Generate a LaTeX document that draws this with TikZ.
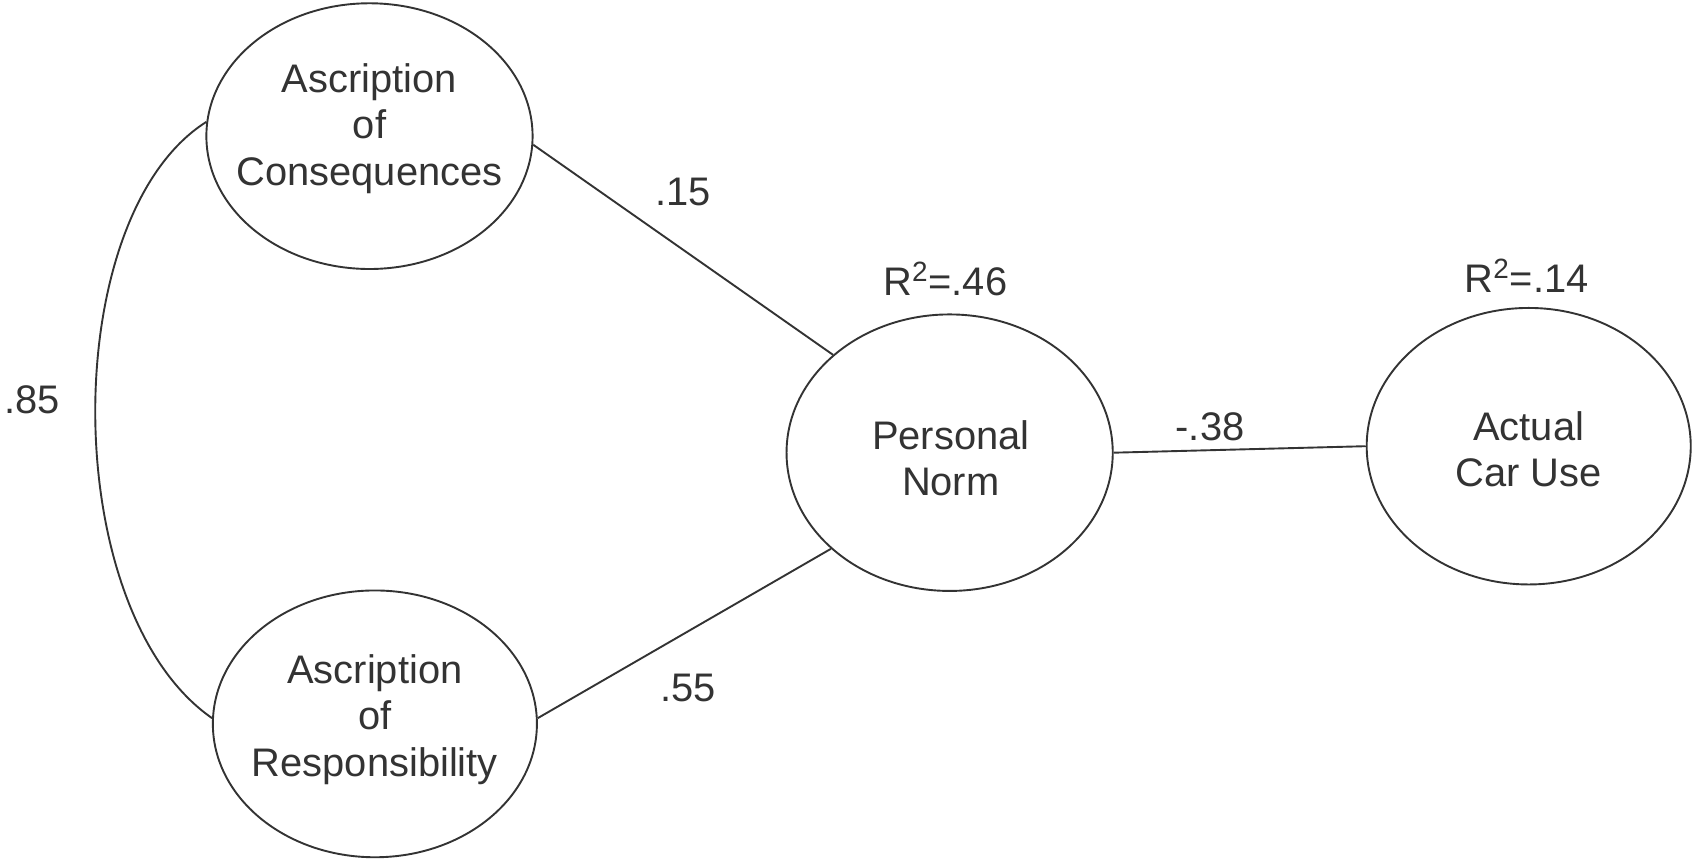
\documentclass[tikz,border=0pt]{standalone}
\usepackage{fontspec}
\setmainfont{Liberation Sans}
\usetikzlibrary{shapes.geometric}
\begin{document}
\begin{tikzpicture}[x=0.02cm,y=-0.02cm,
  latent/.style={draw=black!80, ellipse, line width=1pt, inner sep=0pt},
  lbl/.style={font=\fontsize{21}{24.5}\selectfont, text=black!80, align=center},
  path/.style={line width=1pt, draw=black!80}]
\useasboundingbox (0,0) rectangle (1568,796);
\node[latent, minimum width=6.04cm, minimum height=4.92cm] (ac) at (342,126) {};
\node[latent, minimum width=6.0cm, minimum height=4.94cm] (ar) at (347,670) {};
\node[latent, minimum width=6.04cm, minimum height=5.12cm] (pn) at (879,419) {};
\node[latent, minimum width=6.0cm, minimum height=5.12cm] (cu) at (1415,413) {};
\node[lbl] (acT) at (342,119) {Ascription\\of\\Consequences};
\node[lbl] (arT) at (347,666) {Ascription\\of\\Responsibility};
\node[lbl] (pnT) at (880,424) {Personal\\Norm};
\node[lbl] (cuT) at (1415,416) {Actual\\Car Use};
\draw[path] (ac.-3) -- (pn.140);
\draw[path] (ar.2) -- (pn.-141);
\draw[path] (pn.east) -- (cu.west);
\draw[path] (ac.175) .. controls (53,200) and (53,565) .. (ar.178);
\node[lbl] (l15) at (632,178) {.15};
\node[lbl] (l55) at (637,637) {.55};
\node[lbl] (l38) at (1120,395) {-.38};
\node[lbl] (l85) at (30,370) {.85};
\node[lbl] (r46) at (875,258) {R\textsuperscript{2}=.46};
\node[lbl] (r14) at (1413,255) {R\textsuperscript{2}=.14};
\end{tikzpicture}
\end{document}
